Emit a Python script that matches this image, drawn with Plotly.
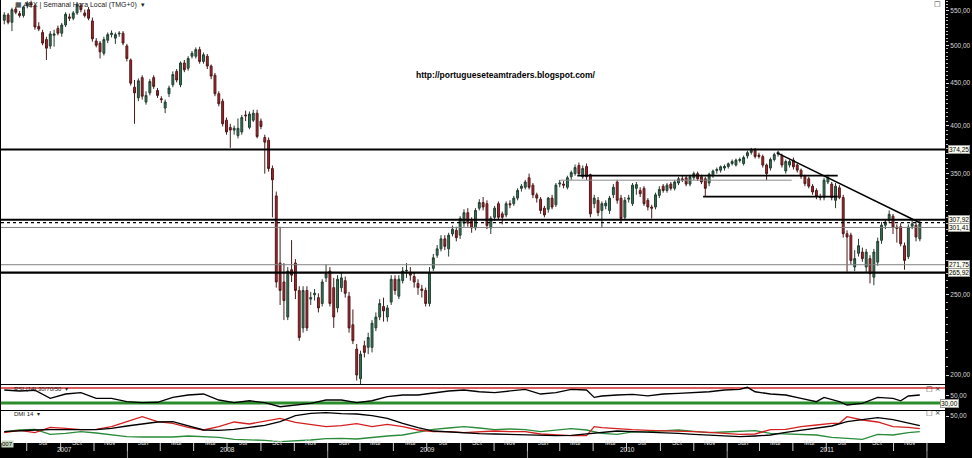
import math
import pandas as pd
import plotly.graph_objects as go

# ---------------- data (weekly AEX candles) ----------------
start_week = "2007-05-21"
opens = [536,544,533,553,546,543,558,562,558,527,518,508,499,514,524,517,529,541,539,547,
         558,547,552,535,506,503,489,507,515,510,516,517,499,480,445,432,457,427,438,457,
         441,431,420,437,448,465,448,476,469,485,485,494,478,485,472,460,437,428,406,398,
         395,389,393,412,398,406,414,405,387,384,355,329,273,259,235,268,273,253,228,253,
         247,250,248,244,262,267,255,241,255,260,249,230,215,198,217,216,216,228,235,242,
         235,245,261,249,260,267,266,263,258,254,253,244,269,279,284,292,284,296,299,295,
         305,314,307,301,318,323,322,301,310,322,313,312,322,322,327,336,337,346,339,330,
         326,318,317,327,321,340,340,337,347,350,358,347,357,349,322,325,316,320,316,330,
         342,327,310,326,322,336,334,336,325,319,319,329.5,338,334,340,336,341,345,346,340,
         346,350,347,345,341,348,353,353.4,355.5,357,360,358.5,363,360,367.6,371.3,373.6,368.5,367,358.5,
         355.5,364,369.6,368,352.6,358.5,363.4,358.5,353.4,347.5,345,338,334,328.5,327.5,342,340,325,336.5,327.5,
         296.2,295,270,280.5,281.5,270,276.4,262.5,273.7,290.8,303.3,307.5,311,301.7,302,286.5,278,302.5,303.3,292]
highs = [548,547,555,556,550,558,565,566,560,533,522,512,520,522,528,532,548,546,550,563,
         562,552,556,540,510,506,512,518,521,518,520,520,502,482,454,456,460,440,455,460,
         444,434,430,447,465,468,478,480,485,492,497,498,490,488,474,463,440,431,409,402,
         400,408,412,417,416,418,418,408,390,387,358,333,302,273,270,291,276,256,256,256,
         252,254,251,261,272,270,262,264,266,263,252,240,218,214,220,225,233,238,247,248,
         243,264,264,264,270,273,270,266,261,257,255,270,280,287,295,295,297,303,302,311,
         317,318,310,318,326,328,325,311,320,324,315,324,325,329,336,340,344,350,341,332,
         328,320,328,330,341,344,343,348,353,359,361,358,360,350,330,328,324,325,329,340,
         344,330,328,330,341,342,337,338,327,321,332,338,340,341,342,344,347,348,348,349,
         352,352,349,347,351,354,356,358,359,361,364,365,366,368,373,376,375.8,371,369,360,
         366,371,373,370,364,364,366,360,355,349,347,340,336,331,346,349,342,341,339,330,
         299,297,283,292,285,284,279,284,293,306,308,316,313,304,305,289,304,308,306,307.6]
lows = [530,530,520,545,540,540,554,555,522,520,500,480,495,498,514,512,526,535,536,544,
        548,540,536,505,497,482,486,503,511,502,512,500,478,447,402,428,430,424,435,443,
        432,426,414,433,445,451,445,464,466,482,482,475,475,468,455,434,422,399,390,376,
        390,386,390,405,396,404,386,396,350,352,310,255,243,233,233,259,247,220,225,226,
        243,246,238,242,259,242,228,238,252,248,225,218,197,195,210,212,213,226,233,232,
        232,243,250,247,258,262,260,255,250,248,242,242,267,277,282,283,278,294,290,292,
        302,302,297,299,316,316,300,296,307,308,304,310,318,320,325,333,335,335,327,323,
        313,310,314,317,319,337,336,335,344,348,348,345,344,310,318,311,301,317,313,327,
        322,306,308,323,320,330,328,320,316,309,317,327,332,332,334,334,339,342,338,338,
        344,343,340,328,338,346,350,351,353,355,358,357,361,358,365,369,365,365,356,343.7,
        353,362,367,356,350,356,354,351,345,338,336,330,326,325,325,340,325,318,326,293,
        266.5,272,267,278,274,266,258,256.7,271,288,300,305,296,289,286,268,276,300,290,290]
closes = [544,533,552,548,543,556,562,559,526,523,503,496,516,516,517,529,545,539,547,560,
          552,543,539,509,500,491,508,515,517,515,517,503,482,450,438,453,434,435,452,446,
          435,430,427,444,461,454,476,467,482,489,494,478,487,472,459,437,425,402,393,395,
          397,397,409,411,413,414,388,399,382,355,344,259,253,246,267,264,253,222,253,228,
          248,251,241,259,265,244,235,261,262,251,228,220,200,212,213,222,231,235,244,239,
          241,261,253,261,267,267.5,264,259,255,253,244,266,277,284,292,286,295,300,293,309,
          314,305,301,316,323,319,303,309,318,310,310,322,321,327,334,338,342,337,330,327,
          316,312,327,319,339,341,339,346,351,356,350,355,347,313,327,314,322,322.5,327,337,
          325,309,325,327,339,339.5,331,322,319,318,330,335,334,339,336,342,345,344,340,347,
          350,345,342,336,349.5,352.5,354,356.7,357,359.7,362,363.4,364,366,371,373.6,367,367,358.5,350,
          364,369,371.5,358.5,362,362,356.7,353.4,347.5,340.4,338,332.6,328.5,327.5,343.7,346.3,327.5,338,327.5,296.2,
          293.5,275,276.4,286.5,276.4,281.5,265,281.5,290,303.3,306,312.6,301.7,300.5,288,275,301.7,304.5,293.5,304.5]

# RSI (14) read every few weeks (week index -> value)
rsi_idx = [0,4,8,12,16,20,24,28,32,36,40,44,48,52,56,60,64,68,72,76,80,84,88,92,96,100,104,108,
           112,116,120,124,128,132,136,140,144,148,152,154,156,160,164,168,172,176,180,184,188,192,
           194,196,200,204,208,212,214,216,218,220,224,228,232,234,236,239]
rsi_val = [64.7,62,64,42.4,54,57.5,42.4,42.4,33.5,30.9,32,45,51.3,54,38,31,36,31,20,24.7,29,38,
           38,30.9,36,46.8,51.3,51.3,57.5,62,64.7,60,57.5,62,66.5,54,57.5,66.5,64.7,45,48.7,51.3,
           53,49,54,55.8,57.5,60,64.7,66.5,71.8,60,54,51.3,42.4,33.5,45,39.8,33.5,24.7,29,45,42.4,
           36,48.7,51.3]

# DMI 14 (ADX black, DI- red, DI+ green)
dmi_idx = [0,4,8,12,16,20,24,28,32,36,40,44,48,52,56,60,64,68,72,76,80,84,88,92,96,100,104,108,
           112,116,120,124,128,132,136,140,144,148,152,156,160,164,168,172,176,180,184,188,192,196,
           200,204,208,212,216,220,224,228,232,236,239]
adx_val = [20.9,22.8,24.1,24.7,25.3,24.7,24.7,27.2,31.5,35.2,38.9,39.5,31.5,24.1,23.5,25.3,29,32.7,
           39.5,50.6,55,56.2,54.3,53.7,50.6,45.7,36.4,28.4,22.2,20.4,17.9,17.3,16.7,16,14.8,14.2,13.6,
           14.2,17.3,19.8,22.2,21,20.4,19.1,17.9,16,14.8,13.6,11.7,13,14.8,19.8,24.1,27.2,31.5,39.5,
           43.8,46.9,43.2,37.6,32]
diminus_idx = [0,4,8,12,16,20,24,28,32,36,40,44,48,52,56,60,64,68,72,76,80,84,88,92,96,100,104,108,
               112,116,120,124,128,132,136,140,144,148,152,154,156,160,164,168,172,176,180,184,188,
               192,196,200,204,208,212,216,218,220,224,228,232,236,239]
diminus_val = [19.1,23.5,19.1,29,27.2,24.7,25.3,30.2,39.5,48.8,39.5,36.4,29,24.1,30.2,38.9,35.2,40.7,
               45.7,38.3,34.6,30.2,32.1,35.8,30.2,34.6,30.2,24.1,21,21,19.1,21,22.2,21,21,16.7,14.8,
               13.6,13.6,30.2,28.4,25.9,24.7,23.5,22.2,21,21,19.8,17.9,16,16.7,24.7,25.3,30.2,33.3,
               36.4,36.4,48.8,42.6,38.9,30.2,29,26.5]
diplus_val = [21,24.1,25.3,16,17.9,21,18.5,15.4,11.7,11.1,11.1,11.1,13,12.3,10.5,6.8,6.2,4.9,2.5,3.7,
              5.6,8,8.6,7.4,10.5,13,14.8,20.4,25.3,27.8,30.2,27.8,24.7,25.9,24.7,21,23.5,26.5,24.1,
              17.9,16,20.4,21,22.8,24.1,21.6,19.1,20.4,21,22.8,17.9,16.7,16,14.8,10.5,8,6.8,16,14.8,
              19.1,21]

# horizontal levels, segments and trend line drawn on the price pane
levels = [374.25, 307.92, 305.5, 301.41, 271.75, 265.92]
level_labels = ["374,25", "307,92", None, "301,41", "271,75", "265,92"]
seg_values = [348.0, 343.7, 328.3]
seg_start = ["2010-04-02", "2010-03-02", "2010-11-18"]
seg_end = ["2011-07-22", "2011-04-29", "2011-07-22"]
trend_dates = ["2011-04-02", "2011-12-19"]
trend_values = [370.8, 305.4]

price_ticks = [200, 250, 350, 400, 450, 500, 550]
rsi_levels = [70, 30]
month_names = ["Jan", "Mar", "Mai", "Jul", "Set", "Nov"]
years = [2007, 2008, 2009, 2010, 2011]

# ---------------- styles / geometry ----------------
X0, X1 = pd.Timestamp("2007-05-15"), pd.Timestamp("2012-02-03")
H = 458
def py(y):  # pixel row -> paper
    return 1 - y / H
def pxp(x):  # pixel column -> paper
    return (x - 1) / 944

dates = [pd.Timestamp(start_week) + pd.Timedelta(weeks=i) for i in range(len(opens))]
FONT = "Liberation Sans, Arial, sans-serif"

fig = go.Figure()
fig.add_trace(go.Candlestick(
    x=dates, open=opens, high=highs, low=lows, close=closes,
    increasing=dict(line=dict(color="#243d30", width=1), fillcolor="#2f7a57"),
    decreasing=dict(line=dict(color="#4d1a1a", width=1), fillcolor="#b3212b"),
    whiskerwidth=0, hoverinfo="skip", xaxis="x", yaxis="y"))

level_style = [dict(color="black", width=2), dict(color="black", width=2),
               dict(color="black", width=1.2, dash="dot"), dict(color="#808080", width=1),
               dict(color="#808080", width=1), dict(color="black", width=2.2)]
for v, st in zip(levels, level_style):
    fig.add_trace(go.Scatter(x=[X0, X1], y=[v, v], mode="lines", line=st,
                             hoverinfo="skip", xaxis="x", yaxis="y"))
seg_style = [dict(color="black", width=1.8), dict(color="#8a8a8a", width=1),
             dict(color="black", width=1.8)]
for v, a, b, st in zip(seg_values, seg_start, seg_end, seg_style):
    fig.add_trace(go.Scatter(x=[a, b], y=[v, v], mode="lines", line=st,
                             hoverinfo="skip", xaxis="x", yaxis="y"))
fig.add_trace(go.Scatter(x=trend_dates, y=trend_values, mode="lines",
                         line=dict(color="black", width=1.5), hoverinfo="skip",
                         xaxis="x", yaxis="y"))

# RSI pane
for v, col, w in zip(rsi_levels, ["#d42a2a", "#2a8c2a"], [1.5, 3]):
    fig.add_trace(go.Scatter(x=[X0, X1], y=[v, v], mode="lines", line=dict(color=col, width=w),
                             hoverinfo="skip", xaxis="x2", yaxis="y2"))
fig.add_trace(go.Scatter(x=[dates[i] for i in rsi_idx], y=rsi_val, mode="lines",
                         line=dict(color="black", width=1.3), hoverinfo="skip",
                         xaxis="x2", yaxis="y2"))

# DMI pane
fig.add_trace(go.Scatter(x=[dates[i] for i in dmi_idx], y=diplus_val, mode="lines",
                         line=dict(color="#2a8c3a", width=1.3), hoverinfo="skip",
                         xaxis="x3", yaxis="y3"))
fig.add_trace(go.Scatter(x=[dates[i] for i in diminus_idx], y=diminus_val, mode="lines",
                         line=dict(color="#d42020", width=1.3), hoverinfo="skip",
                         xaxis="x3", yaxis="y3"))
fig.add_trace(go.Scatter(x=[dates[i] for i in dmi_idx], y=adx_val, mode="lines",
                         line=dict(color="black", width=1.3), hoverinfo="skip",
                         xaxis="x3", yaxis="y3"))

tickfont = dict(family=FONT, size=6.5, color="#d8d8d8")
xcommon = dict(range=[X0, X1], showgrid=False, zeroline=False, showticklabels=False,
               ticks="", showline=False, type="date")
minor_vals = [v for v in range(195, 566, 5)]
fig.update_layout(
    width=972, height=H, margin=dict(l=1, r=27, t=0, b=0, autoexpand=False),
    paper_bgcolor="black", plot_bgcolor="white", showlegend=False,
    xaxis=dict(**xcommon, domain=[0, 1], anchor="y", rangeslider=dict(visible=False)),
    xaxis2=dict(**xcommon, domain=[0, 1], anchor="y2"),
    xaxis3=dict(**xcommon, domain=[0, 1], anchor="y3"),
    yaxis=dict(domain=[py(384), 1], type="log",
               range=[math.log10(195.1), math.log10(567.0)], side="right", anchor="x",
               showgrid=False, zeroline=False, tickmode="array", tickvals=price_ticks,
               ticktext=[f"{v:.2f}".replace(".", ",") for v in price_ticks],
               ticks="outside", ticklen=3, tickcolor="#d8d8d8", tickfont=tickfont,
               minor=dict(tickmode="array", tickvals=minor_vals, ticks="outside",
                          ticklen=2, tickcolor="#bbbbbb")),
    yaxis2=dict(domain=[py(410), py(385)], range=[11.33, 78], side="right", anchor="x2",
                showgrid=False, zeroline=False, tickmode="array", tickvals=[50],
                ticktext=["50,00"], ticks="outside", ticklen=3, tickcolor="#d8d8d8",
                tickfont=tickfont),
    yaxis3=dict(domain=[py(443), py(411)], range=[0, 59.26], side="right", anchor="x3",
                showgrid=False, zeroline=False, tickmode="array", tickvals=[50],
                ticktext=["50,00"], ticks="outside", ticklen=3, tickcolor="#d8d8d8",
                tickfont=tickfont),
)

ann = []
# boxed level labels on the right axis
for v, lab in zip(levels, level_labels):
    if lab:
        ann.append(dict(x=pxp(959), xref="paper", y=math.log10(v), yref="y", text=lab,
                        showarrow=False, font=dict(family=FONT, size=6.5, color="black"),
                        bgcolor="#fbfbef", bordercolor="#9a9a9a", borderwidth=1, borderpad=0,
                        xanchor="center", yanchor="middle"))
ann.append(dict(x=pxp(959), xref="paper", y=30, yref="y2", text="30,00", showarrow=False,
                font=dict(family=FONT, size=6.5, color="black"), bgcolor="#fbfbef",
                bordercolor="#9a9a9a", borderwidth=1, borderpad=0))
# titles
ann.append(dict(x=pxp(13), xref="paper", y=py(5), yref="paper",
                text="▦ AEX | Semanal Hora Local (TMG+0)  ▾", showarrow=False,
                font=dict(family=FONT, size=7, color="#222"), xanchor="left", yanchor="middle"))
ann.append(dict(x=pxp(12), xref="paper", y=py(389), yref="paper",
                text="RSI (14) 30/70/50  ▾", showarrow=False,
                font=dict(family=FONT, size=6, color="#222"), xanchor="left", yanchor="middle"))
ann.append(dict(x=pxp(12), xref="paper", y=py(414), yref="paper", text="DMI 14  ▾",
                showarrow=False, font=dict(family=FONT, size=6, color="#222"),
                xanchor="left", yanchor="middle"))
ann.append(dict(x=pxp(506), xref="paper", y=py(68), yref="paper",
                text="<b>http://portugueseteamtraders.blogspot.com/</b>", showarrow=False,
                font=dict(family=FONT, size=8.5, color="black")))
for yy, t in [(4, "□"), (389, "□ ×"), (413, "□ ×")]:
    ann.append(dict(x=pxp(943), xref="paper", y=py(yy), yref="paper", text=t, showarrow=False,
                    font=dict(family="DejaVu Sans", size=7, color="#333"), xanchor="right",
                    yanchor="middle"))

# time axis band
shapes = []
month_starts = pd.date_range("2007-07-01", "2012-01-01", freq="2MS")
for d in month_starts:
    shapes.append(dict(type="line", xref="x3", yref="paper", x0=d, x1=d, y0=py(451), y1=py(443),
                       line=dict(color="#cfcfcf", width=1)))
    if d + pd.Timedelta(days=30) < X1 - pd.Timedelta(days=5):
        ann.append(dict(x=d + pd.Timedelta(days=30), xref="x3", y=py(447.5), yref="paper",
                        text=month_names[(d.month - 1) // 2], showarrow=False,
                        font=dict(family=FONT, size=6.5, color="#e0e0e0")))
for yr in years:
    a = max(pd.Timestamp(f"{yr}-01-01"), X0)
    b = min(pd.Timestamp(f"{yr + 1}-01-01"), X1)
    ann.append(dict(x=a + (b - a) / 2, xref="x3", y=py(455), yref="paper", text=str(yr),
                    showarrow=False, font=dict(family=FONT, size=6.5, color="#e0e0e0")))
    if yr > 2007:
        shapes.append(dict(type="line", xref="x3", yref="paper", x0=a, x1=a, y0=0, y1=py(451),
                           line=dict(color="#9a9a9a", width=1)))
shapes.append(dict(type="line", xref="x3", yref="paper", x0="2012-01-01", x1="2012-01-01",
                   y0=0, y1=py(451), line=dict(color="#9a9a9a", width=1)))
ann.append(dict(x=pxp(1), xref="paper", y=py(447.5), yref="paper", text="007", showarrow=False,
                font=dict(family=FONT, size=6, color="black"), bgcolor="#c9d9bf",
                xanchor="left", borderpad=0))

fig.update_layout(annotations=ann, shapes=shapes)
fig.write_html("out.html", config={"displayModeBar": False, "staticPlot": True},
               post_script="document.body.style.margin='0';document.body.style.overflow='hidden';")
